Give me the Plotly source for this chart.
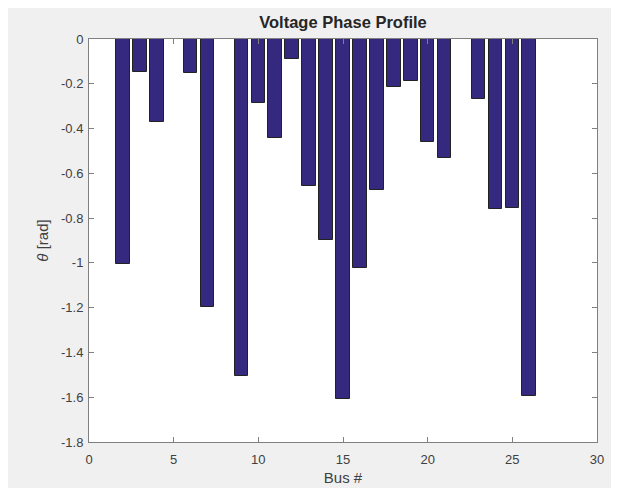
import plotly.graph_objects as go

bus = list(range(1, 27))
theta = [0.0, -1.006, -0.149, -0.372, 0.0, -0.150, -1.197, 0.0, -1.507, -0.285,
         -0.441, -0.088, -0.656, -0.898, -1.610, -1.022, -0.675, -0.213, -0.186, -0.459,
         -0.533, 0.0, -0.270, -0.761, -0.755, -1.596]
x_ticks = [0, 5, 10, 15, 20, 25, 30]
y_ticks = [0, -0.2, -0.4, -0.6, -0.8, -1, -1.2, -1.4, -1.6, -1.8]

FONT = "Liberation Sans, Arial, sans-serif"

fig = go.Figure(go.Bar(
    x=bus, y=theta, width=0.8,
    marker=dict(color="#35297f", line=dict(color="#222222", width=1)),
))

axis_common = dict(
    showgrid=False, zeroline=False, showline=True, linecolor="#808080", linewidth=1,
    mirror="ticks", ticks="inside", ticklen=5, tickcolor="#808080", automargin=False,
    tickfont=dict(family=FONT, size=13, color="#404040"),
)

fig.update_layout(
    width=611, height=480,
    margin=dict(l=81, r=22, t=31, b=46),
    paper_bgcolor="#f0f0f0", plot_bgcolor="white",
    title=dict(text="<b>Voltage Phase Profile</b>", x=(81 + 254) / 611, xanchor="center",
               y=1 - 14 / 480, yanchor="middle",
               font=dict(family=FONT, size=16.5, color="#262626")),
    showlegend=False,
    bargap=0,
)
fig.update_xaxes(range=[0, 30], tickvals=x_ticks, ticktext=[str(v) for v in x_ticks],
                 ticklabelstandoff=5,
                 title=dict(text="Bus #", standoff=6,
                            font=dict(family=FONT, size=15, color="#404040")),
                 **axis_common)
fig.update_yaxes(range=[-1.8, 0], tickvals=y_ticks, ticktext=[("%g" % v) for v in y_ticks],
                 ticklabelstandoff=2,
                 title=dict(text="<i>θ</i> [rad]", standoff=8,
                            font=dict(family=FONT, size=15, color="#404040")),
                 **axis_common)

fig.write_html("out.html")
